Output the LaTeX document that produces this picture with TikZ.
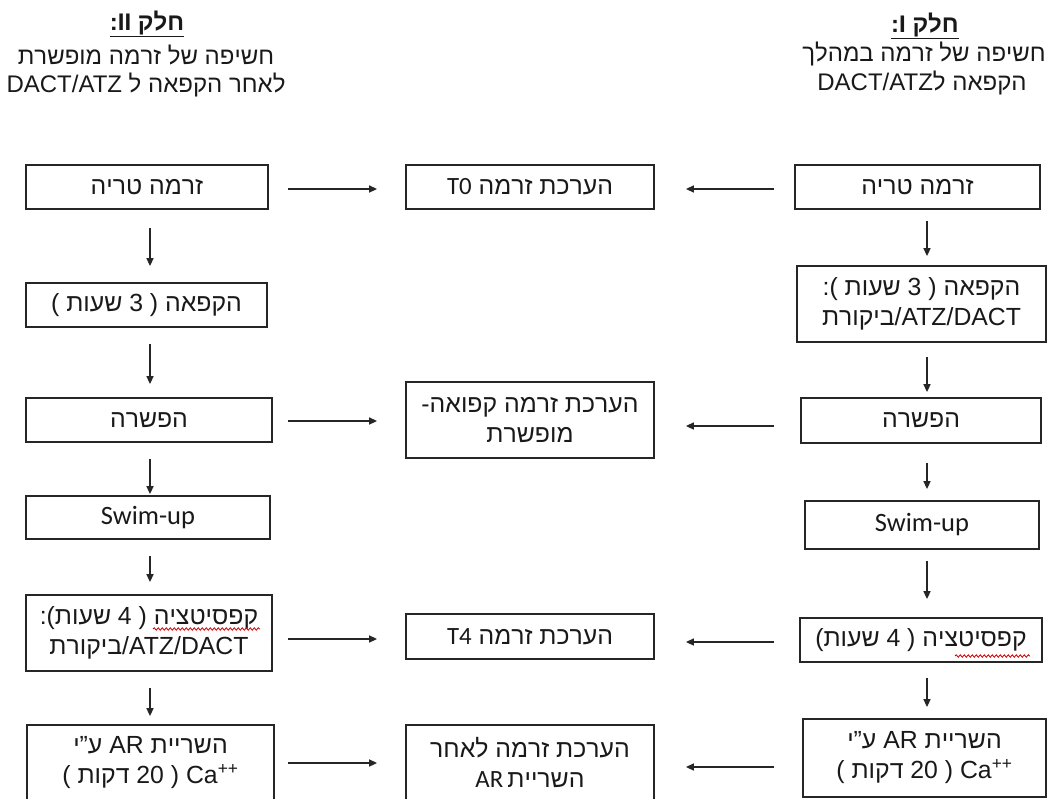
\documentclass[tikz,border=0pt]{standalone}
\usepackage{fontspec}
\setmainfont{Liberation Sans}
\newfontfamily\carlito{Carlito}
\usetikzlibrary{arrows.meta,calc,decorations.pathmorphing}
\TeXXeTstate=1
\newcommand\RL[1]{\beginR#1\endR}
\newcommand\LR[1]{\beginL#1\endL}
\newcommand\po{)}
\newcommand\pc{(}
\newcommand\swim{{\fontsize{26.5}{30}\selectfont\carlito Swim-up}}
\begin{document}
\begin{tikzpicture}[x=1pt,y=-1pt,
 box/.style={draw=black!85, line width=1.8pt, inner sep=0pt, align=center, text=black!90, font=\fontsize{24.8}{30}\selectfont},
 hdr/.style={inner sep=0pt, text=black!90, font=\fontsize{24}{28}\selectfont},
 arr/.style={line width=1.5pt, draw=black!85, -{Triangle[length=8pt,width=7pt]}},
 squig/.style={draw=red!80!black, line width=0.8pt, decorate, decoration={snake, amplitude=1.2pt, segment length=4pt}}]
\useasboundingbox (0,0) rectangle (1049,798);
\fill[white] (0,0) rectangle (1049,798);
\clip (0,0) rectangle (1049,798);

% headers
\node[hdr] (hl1) at (147,24) {\underline{\textbf{\RL{חלק II\kern0pt:}}}};
\node[hdr] (hl2) at (146,55) {\RL{חשיפה של זרמה מופשרת}};
\node[hdr] (hl3) at (146,85) {\RL{לאחר הקפאה ל DACT/ATZ}};
\node[hdr] (hr1) at (925,26) {\underline{\textbf{\RL{חלק I\kern0pt:}}}};
\node[hdr] (hr2) at (924,54) {\RL{חשיפה של זרמה במהלך}};
\node[hdr] (hr3) at (922,83) {\RL{הקפאה ל\kern0pt DACT/ATZ}};

% left column
\node[box, minimum width=242, minimum height=44] (L1) at (147,187) {\RL{זרמה טריה}};
\node[box, minimum width=241, minimum height=44] (L2) at (146.5,305) {\RL{הקפאה \po{} 3 שעות \pc}};
\node[box, minimum width=246, minimum height=44] (L3) at (149,420) {\RL{הפשרה}};
\node[box, minimum width=244, minimum height=43] (L4) at (148,517.5) {\swim};
\node[box, minimum width=246, minimum height=76] (L5) at (149,633) {\RL{קפסיטציה \po{} 4 שעות\kern0pt\pc\kern0pt:}\\\RL{ATZ/DACT\kern0pt/\kern0pt ביקורת}};
\node[box, minimum width=247, minimum height=76] (L6) at (150.5,763) {\RL{השריית AR ע"י}\\\RL{\LR{Ca\textsuperscript{++}} \po{} 20 דקות \pc}};

% middle column
\node[box, minimum width=248, minimum height=44] (M1) at (530,187) {\RL{הערכת זרמה {\carlito T0}}};
\node[box, minimum width=248, minimum height=76] (M2) at (530,420) {\RL{הערכת זרמה קפואה\kern0pt-}\\\RL{מופשרת}};
\node[box, minimum width=248, minimum height=45] (M3) at (530,636.5) {\RL{הערכת זרמה {\carlito T4}}};
\node[box, minimum width=248, minimum height=75] (M4) at (530,762.5) {\RL{הערכת זרמה לאחר}\\\RL{השריית\,{\carlito AR}}};

% right column
\node[box, minimum width=245, minimum height=44] (R1) at (917.5,187) {\RL{זרמה טריה}};
\node[box, minimum width=249, minimum height=76] (R2) at (921.5,304) {\RL{הקפאה \po{} 3 שעות \pc\kern0pt:}\\\RL{ATZ/DACT\kern0pt/\kern0pt ביקורת}};
\node[box, minimum width=240, minimum height=45] (R3) at (921,420.5) {\RL{הפשרה}};
\node[box, minimum width=234, minimum height=48] (R4) at (922,525) {\swim};
\node[box, minimum width=242, minimum height=44] (R5) at (921,640) {\RL{קפסיטציה \po{} 4 שעות\kern0pt\pc}};
\node[box, minimum width=243, minimum height=78] (R6) at (924.5,758) {\RL{השריית AR ע"י}\\\RL{\LR{Ca\textsuperscript{++}} \po{} 20 דקות \pc}};

% vertical arrows left
\draw[arr] ($(L1.south)+(3,18)$) -- ($(L2.north)+(3.5,-16)$);
\draw[arr] ($(L2.south)+(3.5,16)$) -- ($(L3.north)+(1,-13)$);
\draw[arr] ($(L3.south)+(1,16)$) -- ($(L4.north)+(2,-1)$);
\draw[arr] ($(L4.south)+(2,16)$) -- ($(L5.north)+(1,-12)$);
\draw[arr] ($(L5.south)+(1,16)$) -- ($(L6.north)+(-0.5,-8)$);
% vertical arrows right
\draw[arr] ($(R1.south)+(9.5,11)$) -- ($(R2.north)+(5.5,-9)$);
\draw[arr] ($(R2.south)+(5.5,14)$) -- ($(R3.north)+(6,-5)$);
\draw[arr] ($(R3.south)+(6,19)$) -- ($(R4.north)+(5,-11)$);
\draw[arr] ($(R4.south)+(5,11)$) -- ($(R5.north)+(6,-18)$);
\draw[arr] ($(R5.south)+(6,15)$) -- ($(R6.north)+(2.5,-11)$);

% horizontal arrows
\draw[arr] ($(L1.east)+(19,2)$) -- ($(M1.west)+(-28,2)$);
\draw[arr] ($(R1.west)+(-20,2)$) -- ($(M1.east)+(31,2)$);
\draw[arr] ($(L3.east)+(15,1)$) -- ($(M2.west)+(-28,1)$);
\draw[arr] ($(R3.west)+(-26,5.5)$) -- ($(M2.east)+(31,6)$);
\draw[arr] ($(L5.east)+(15,6)$) -- ($(M3.west)+(-28,2.5)$);
\draw[arr] ($(R5.west)+(-25,2)$) -- ($(M3.east)+(31,5.5)$);
\draw[arr] ($(L6.east)+(13,0)$) -- ($(M4.west)+(-28,0.5)$);
\draw[arr] ($(R6.west)+(-28,9)$) -- ($(M4.east)+(31,4.5)$);

% spell-check squiggles
\path[squig] (153,629) -- (260,629);
\path[squig] (955,656) -- (1030,656);
\end{tikzpicture}
\end{document}
